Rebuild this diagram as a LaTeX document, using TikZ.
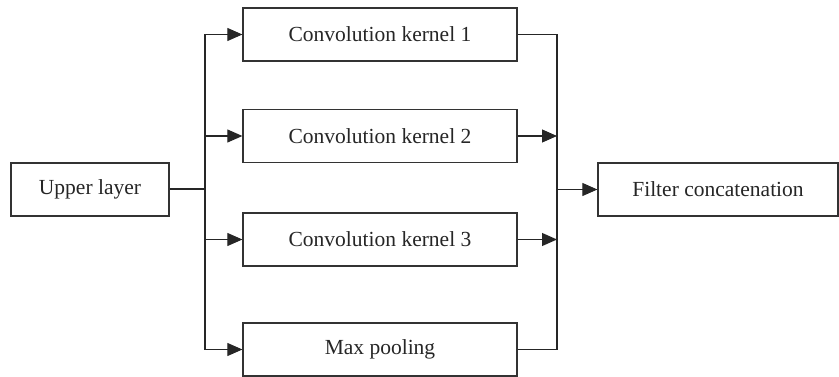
\documentclass[tikz,border=0pt]{standalone}
\usepackage{fontspec}
\setmainfont{Liberation Serif}
\usetikzlibrary{arrows.meta}
\begin{document}
\begin{tikzpicture}[x=1pt,y=-1pt,
  blk/.style={draw=black!80, line width=1.3pt, fill=white, minimum height=53pt, inner sep=0pt,
    font=\fontsize{21.5}{25}\selectfont, text=black!85},
  conv/.style={blk, minimum width=274pt},
  link/.style={draw=black!85, line width=1.1pt},
  arr/.style={link, -{Triangle[length=15pt,width=13pt]}}]
\useasboundingbox (0,0) rectangle (839,377);
\node[blk, minimum width=158pt] (up) at (90,189.5) {Upper layer};
\node[conv] (b1) at (380,34.5) {Convolution kernel 1};
\node[conv] (b2) at (380,136) {Convolution kernel 2};
\node[conv] (b3) at (380,239.5) {Convolution kernel 3};
\node[conv] (b4) at (380,349.5) {Max pooling};
\node[blk, minimum width=240pt] (fc) at (718,189.5) {Filter concatenation};
\coordinate (bl) at (205,189.5);
\coordinate (br) at (557,189.5);
% left bus
\draw[link, line width=2pt] (up.east) -- (bl);
\draw[link] (bl |- b1) -- (bl |- b4);
\draw[arr] (bl |- b1) -- (b1.west);
\draw[arr] (bl |- b2) -- (b2.west);
\draw[arr] (bl |- b3) -- (b3.west);
\draw[arr] (bl |- b4) -- (b4.west);
% right bus
\draw[link] (b1.east) -- (br |- b1) -- (br |- b4) -- (b4.east);
\draw[arr] (b2.east) -- (br |- b2);
\draw[arr] (b3.east) -- (br |- b3);
\draw[arr] (br) -- (fc.west);
\end{tikzpicture}
\end{document}
